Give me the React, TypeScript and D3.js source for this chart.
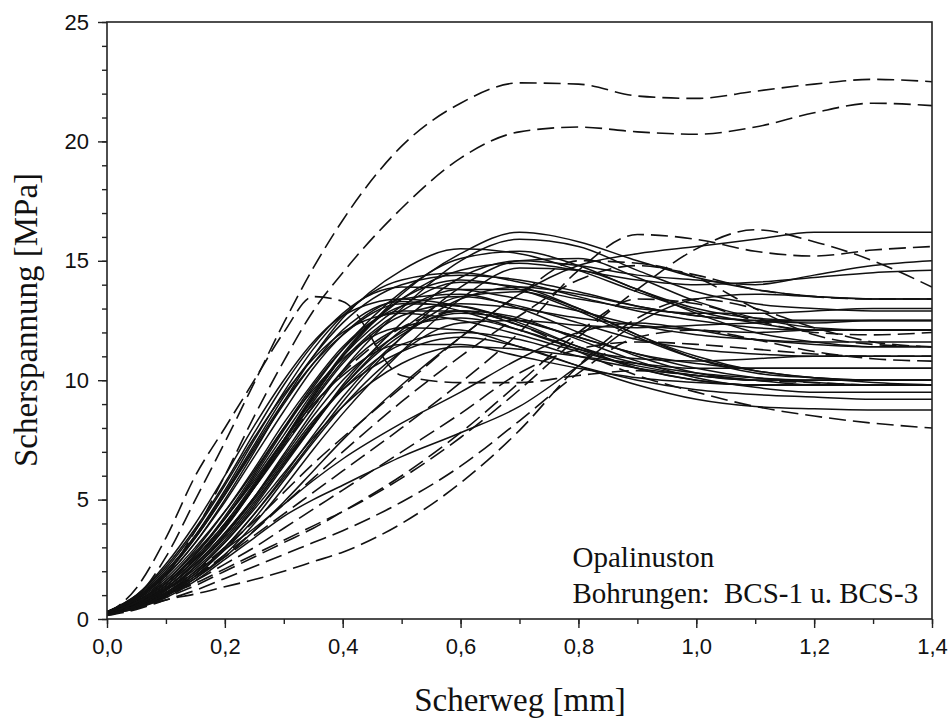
import React, { useEffect, useRef } from 'react';
import * as d3 from 'd3';

// shear displacement grid (mm) shared by all curves
const XS = [0, 0.05, 0.1, 0.15, 0.2, 0.25, 0.3, 0.35, 0.4, 0.5, 0.6, 0.7, 0.8, 0.9, 1.0, 1.1, 1.2, 1.3, 1.4];

// shear stress (MPa), solid lines
const SOLID_CURVES = [
  [0.25, 0.6, 1.3, 2.4, 3.8, 5.5, 7.4, 9.3, 11.0, 13.6, 15.3, 16.2, 15.8, 15.0, 14.3, 13.8, 13.5, 13.4, 13.4],
  [0.2, 0.55, 1.2, 2.2, 3.5, 5.1, 6.9, 8.7, 10.4, 13.0, 15.0, 15.9, 15.6, 14.6, 13.7, 13.2, 13.0, 12.9, 12.9],
  [0.25, 0.7, 1.5, 2.7, 4.2, 6.0, 7.9, 9.7, 11.3, 13.7, 15.1, 15.4, 14.8, 13.8, 13.0, 12.6, 12.5, 12.5, 12.5],
  [0.2, 0.5, 1.1, 2.0, 3.2, 4.7, 6.4, 8.1, 9.8, 12.4, 14.3, 15.0, 14.8, 14.4, 14.2, 14.0, 14.4, 14.8, 15.0],
  [0.25, 0.65, 1.4, 2.5, 3.9, 5.6, 7.5, 9.3, 11.0, 13.4, 14.6, 14.9, 14.6, 14.2, 14.0, 14.1, 14.3, 14.5, 14.6],
  [0.3, 0.9, 2.0, 3.5, 5.4, 7.5, 9.5, 11.3, 12.7, 14.2, 14.5, 14.1, 13.5, 12.9, 12.5, 12.2, 12.1, 12.1, 12.1],
  [0.2, 0.6, 1.4, 2.5, 3.9, 5.6, 7.5, 9.4, 11.1, 13.4, 14.2, 13.8, 12.9, 11.8, 10.9, 10.4, 10.1, 10.0, 10.0],
  [0.3, 1.0, 2.2, 3.8, 5.7, 7.8, 9.8, 11.5, 12.8, 13.9, 13.8, 13.4, 12.9, 12.3, 11.9, 11.7, 11.6, 11.6, 11.6],
  [0.2, 0.5, 1.1, 1.9, 3.0, 4.4, 6.0, 7.7, 9.3, 11.8, 13.4, 13.9, 13.6, 13.1, 12.7, 12.5, 12.4, 12.5, 12.5],
  [0.3, 0.85, 1.8, 3.2, 4.9, 6.8, 8.7, 10.5, 11.9, 13.4, 13.6, 13.0, 12.0, 11.0, 10.3, 10.0, 9.8, 9.8, 9.8],
  [0.25, 0.7, 1.5, 2.7, 4.3, 6.1, 8.0, 9.8, 11.3, 13.1, 13.5, 13.1, 12.4, 11.7, 11.3, 11.1, 11.0, 11.0, 11.0],
  [0.3, 1.0, 2.3, 4.0, 6.0, 8.1, 10.0, 11.6, 12.7, 13.4, 13.1, 12.5, 11.8, 11.1, 10.7, 10.5, 10.5, 10.5, 10.5],
  [0.2, 0.6, 1.3, 2.4, 3.8, 5.5, 7.3, 9.1, 10.7, 12.7, 13.2, 13.0, 12.6, 12.3, 12.1, 12.0, 12.1, 12.1, 12.1],
  [0.25, 0.75, 1.6, 2.9, 4.5, 6.3, 8.2, 9.9, 11.4, 12.9, 12.9, 12.3, 11.4, 10.7, 10.3, 10.1, 10.0, 10.0, 10.0],
  [0.2, 0.55, 1.2, 2.1, 3.3, 4.8, 6.5, 8.2, 9.7, 11.9, 12.9, 12.6, 11.7, 10.8, 10.1, 9.7, 9.5, 9.5, 9.5],
  [0.3, 0.95, 2.1, 3.7, 5.6, 7.6, 9.4, 10.9, 12.0, 12.8, 12.5, 11.9, 11.2, 10.6, 10.2, 10.0, 10.0, 10.0, 10.0],
  [0.25, 0.65, 1.4, 2.5, 3.9, 5.5, 7.2, 8.9, 10.4, 12.2, 12.6, 12.1, 11.3, 10.5, 10.0, 9.8, 9.8, 9.8, 9.8],
  [0.2, 0.5, 1.0, 1.8, 2.9, 4.2, 5.8, 7.4, 8.9, 11.2, 12.4, 12.5, 12.3, 12.2, 12.3, 12.4, 12.5, 12.5, 12.5],
  [0.3, 0.8, 1.7, 3.0, 4.5, 6.2, 8.0, 9.6, 10.9, 12.2, 12.1, 11.4, 10.6, 10.0, 9.6, 9.4, 9.3, 9.2, 9.2],
  [0.2, 0.55, 1.2, 2.2, 3.5, 5.0, 6.6, 8.2, 9.6, 11.5, 12.0, 11.7, 11.0, 10.5, 10.2, 10.0, 10.0, 10.0, 10.0],
  [0.25, 0.6, 1.3, 2.3, 3.6, 5.1, 6.7, 8.3, 9.6, 11.2, 11.8, 11.4, 10.6, 9.8, 9.2, 8.9, 8.8, 8.75, 8.75],
  [0.3, 0.75, 1.6, 2.8, 4.2, 5.8, 7.5, 9.0, 10.2, 11.5, 11.5, 11.0, 10.5, 10.1, 9.9, 9.8, 9.8, 9.8, 9.8],
  [0.2, 0.5, 1.1, 2.0, 3.2, 4.6, 6.1, 7.6, 8.9, 10.7, 11.4, 11.3, 11.0, 10.7, 10.5, 10.5, 10.5, 10.5, 10.5],
  [0.2, 0.45, 0.95, 1.7, 2.7, 4.0, 5.5, 7.1, 8.6, 11.2, 13.4, 14.7, 14.6, 13.8, 12.8, 12.0, 11.6, 11.4, 11.4],
  [0.2, 0.5, 1.05, 1.9, 3.0, 4.4, 5.9, 7.5, 9.1, 11.8, 13.9, 15.0, 15.1, 14.3, 13.3, 12.6, 12.2, 12.1, 12.1],
  [0.25, 0.6, 1.25, 2.2, 3.4, 4.9, 6.5, 8.1, 9.7, 12.1, 13.5, 13.7, 13.0, 11.9, 10.9, 10.3, 10.1, 10.0, 10.0],
  [0.3, 0.9, 2.0, 3.5, 5.3, 7.3, 9.3, 11.0, 12.4, 14.0, 14.4, 14.2, 13.7, 13.1, 12.7, 12.5, 12.5, 12.5, 12.5],
  [0.25, 0.8, 1.9, 3.4, 5.2, 7.2, 9.1, 10.7, 11.9, 13.2, 13.1, 12.4, 11.4, 10.5, 10.0, 9.8, 9.8, 9.8, 9.8],
  [0.2, 0.5, 1.0, 1.8, 2.9, 3.8, 4.8, 5.8, 6.7, 8.2, 9.5, 10.9, 12.0, 12.4, 12.1, 11.7, 11.5, 11.4, 11.4],
  [0.2, 0.45, 0.9, 1.6, 2.5, 3.4, 4.3, 5.0, 5.6, 6.8, 7.8, 8.9, 10.6, 12.4, 13.4, 13.6, 13.5, 13.4, 13.4],
  [0.2, 0.5, 1.0, 1.7, 2.6, 3.7, 4.9, 6.2, 7.5, 9.8, 11.8, 13.6, 14.8, 15.3, 15.6, 15.9, 16.2, 16.2, 16.2],
  [0.3, 0.85, 1.8, 3.2, 5.0, 7.0, 9.1, 11.0, 12.6, 14.6, 15.5, 15.3, 14.6, 13.7, 12.9, 12.4, 12.1, 12.1, 12.1],
  [0.25, 0.7, 1.5, 2.7, 4.2, 5.9, 7.7, 9.5, 11.0, 13.1, 14.1, 13.9, 13.0, 11.9, 11.0, 10.4, 10.1, 9.9, 9.8],
  [0.2, 0.6, 1.3, 2.3, 3.6, 5.1, 6.8, 8.5, 10.0, 12.0, 12.8, 12.5, 11.8, 11.1, 10.5, 10.1, 9.9, 9.8, 9.8],
  [0.25, 0.7, 1.5, 2.6, 4.0, 5.7, 7.5, 9.2, 10.8, 12.9, 13.8, 13.8, 13.4, 13.0, 12.8, 12.8, 12.9, 13.0, 13.0],
  [0.3, 0.9, 1.9, 3.4, 5.2, 7.1, 9.0, 10.7, 12.1, 13.3, 12.9, 12.1, 11.3, 10.9, 10.8, 10.9, 11.0, 11.0, 11.0],
];

// shear stress (MPa), dashed lines
const DASHED_CURVES = [
  [0.2, 0.9, 2.6, 5.0, 7.4, 9.9, 12.4, 14.7, 16.7, 19.8, 21.6, 22.45, 22.4, 21.9, 21.8, 22.1, 22.4, 22.6, 22.5],
  [0.2, 0.6, 1.8, 3.7, 6.0, 8.5, 10.8, 12.9, 14.5, 17.2, 19.3, 20.4, 20.6, 20.4, 20.3, 20.6, 21.2, 21.6, 21.5],
  [0.2, 1.3, 3.4, 6.0, 8.0, 10.0, 12.0, 13.5, 13.3, 10.2, 9.9, 9.9, 10.2, 10.4, 10.2, 10.0, 9.9, 9.8, 9.8],
  [0.2, 0.55, 1.1, 1.8, 2.6, 3.5, 4.4, 5.3, 6.2, 8.0, 9.9, 12.0, 14.6, 16.1, 15.9, 15.4, 15.2, 15.45, 15.6],
  [0.2, 0.5, 1.0, 1.5, 2.1, 2.7, 3.3, 3.9, 4.5, 5.9, 7.6, 9.6, 11.8, 13.8, 15.5, 16.3, 15.8, 15.0, 13.9],
  [0.25, 0.7, 1.5, 2.6, 4.0, 5.6, 7.3, 8.9, 10.3, 12.2, 12.9, 12.3, 11.2, 10.2, 9.5, 8.9, 8.5, 8.2, 8.0],
  [0.2, 0.5, 1.05, 1.8, 2.7, 3.7, 4.8, 5.9, 7.0, 9.1, 11.0, 12.7, 14.2, 14.8, 14.4, 13.8, 13.5, 13.4, 13.4],
  [0.2, 0.55, 1.2, 2.0, 3.0, 4.1, 5.3, 6.5, 7.6, 9.7, 11.8, 13.6, 15.0, 14.9, 14.3, 13.0, 11.9, 11.5, 11.4],
  [0.2, 0.45, 0.9, 1.4, 2.0, 2.6, 3.2, 3.8, 4.5, 6.0, 7.8, 9.9, 12.0, 13.4, 13.2, 12.5, 12.0, 11.9, 12.0],
  [0.2, 0.5, 1.0, 1.6, 2.3, 3.0, 3.8, 4.6, 5.4, 7.0, 8.6, 10.3, 11.3, 11.6, 11.5, 11.3, 11.1, 11.0, 11.0],
  [0.15, 0.4, 0.8, 1.2, 1.7, 2.2, 2.7, 3.2, 3.7, 4.9, 6.4, 8.3, 10.3, 11.8, 12.1, 11.7, 11.2, 10.9, 10.8],
  [0.15, 0.45, 0.8, 1.05, 1.35, 1.65, 2.0, 2.4, 2.8, 4.0, 5.7, 7.9, 10.6, 12.6, 13.4, 13.0, 12.2, 11.6, 11.4],
];

const Y_MAJOR = [0, 5, 10, 15, 20, 25];
const X_MAJOR = [0, 0.2, 0.4, 0.6, 0.8, 1.0, 1.2, 1.4];
const NOTE_LINES = ['Opalinuston', 'Bohrungen:  BCS-1 u. BCS-3'];

const App = () => {
  const svgRef = useRef(null);

  useEffect(() => {
    const svg = d3.select(svgRef.current);
    svg.selectAll('*').remove();

    const W = 951, H = 723;
    const margin = { top: 22, right: 19, bottom: 104, left: 107 };
    const width = W - margin.left - margin.right;
    const height = H - margin.top - margin.bottom;
    const sans = '"Liberation Sans", Arial, sans-serif';
    const serif = '"Liberation Serif", "Times New Roman", serif';

    svg.attr('width', W).attr('height', H);
    svg.append('rect').attr('width', W).attr('height', H).attr('fill', '#fff');

    const g = svg.append('g').attr('transform', `translate(${margin.left}, ${margin.top})`);

    const x = d3.scaleLinear().domain([0, 1.4]).range([0, width]);
    const y = d3.scaleLinear().domain([0, 25]).range([height, 0]);

    g.append('clipPath').attr('id', 'plot-clip')
      .append('rect').attr('width', width).attr('height', height);

    const line = d3.line()
      .x((d, i) => x(XS[i]))
      .y(d => y(d))
      .curve(d3.curveMonotoneX);

    const curves = g.append('g').attr('clip-path', 'url(#plot-clip)').attr('fill', 'none');

    curves.selectAll('.solid')
      .data(SOLID_CURVES)
      .enter().append('path')
      .attr('class', 'solid')
      .attr('d', line)
      .attr('stroke', '#111')
      .attr('stroke-width', 1.5);

    curves.selectAll('.dashed')
      .data(DASHED_CURVES)
      .enter().append('path')
      .attr('class', 'dashed')
      .attr('d', line)
      .attr('stroke', '#111')
      .attr('stroke-width', 1.6)
      .attr('stroke-dasharray', '17,7');

    // minor ticks
    g.append('g')
      .call(d3.axisLeft(y).tickValues(d3.range(0, 26)).tickSize(5).tickSizeOuter(0).tickFormat(() => ''))
      .call(a => a.select('.domain').remove());
    g.append('g')
      .attr('transform', `translate(0, ${height})`)
      .call(d3.axisBottom(x).tickValues(d3.range(0, 15).map(i => i / 10)).tickSize(5).tickSizeOuter(0).tickFormat(() => ''))
      .call(a => a.select('.domain').remove());

    // major ticks with labels
    const yAxis = g.append('g')
      .call(d3.axisLeft(y).tickValues(Y_MAJOR).tickSize(9).tickSizeOuter(0).tickPadding(9));
    yAxis.selectAll('text').style('font-family', sans).style('font-size', '22px').attr('fill', '#111');

    const xAxis = g.append('g')
      .attr('transform', `translate(0, ${height})`)
      .call(d3.axisBottom(x).tickValues(X_MAJOR).tickSize(9).tickSizeOuter(0).tickPadding(10)
        .tickFormat(d => d3.format('.1f')(d).replace('.', ',')));
    xAxis.selectAll('text').style('font-family', sans).style('font-size', '22px').attr('fill', '#111');

    g.selectAll('.tick line').attr('stroke', '#222').attr('stroke-width', 1.4);
    g.selectAll('.domain').remove();

    // frame
    g.append('rect')
      .attr('width', width).attr('height', height)
      .attr('fill', 'none').attr('stroke', '#222').attr('stroke-width', 1.6);

    // annotation
    g.append('text')
      .attr('x', x(0.79))
      .attr('y', y(2.18))
      .style('font-family', serif)
      .style('font-size', '29px')
      .style('white-space', 'pre')
      .attr('fill', '#111')
      .selectAll('tspan')
      .data(NOTE_LINES)
      .enter().append('tspan')
      .attr('x', x(0.79))
      .attr('dy', (d, i) => (i === 0 ? 0 : 36))
      .text(d => d);

    // axis titles
    svg.append('text')
      .attr('x', 520)
      .attr('y', 711)
      .style('text-anchor', 'middle')
      .style('font-family', serif)
      .style('font-size', '33px')
      .attr('fill', '#111')
      .text('Scherweg [mm]');

    svg.append('text')
      .attr('transform', 'translate(37, 320) rotate(-90)')
      .style('text-anchor', 'middle')
      .style('font-family', serif)
      .style('font-size', '33px')
      .attr('fill', '#111')
      .text('Scherspannung [MPa]');
  }, []);

  return <svg ref={svgRef} style={{ position: 'absolute', left: 0, top: 0 }}></svg>;
};

export default App;
